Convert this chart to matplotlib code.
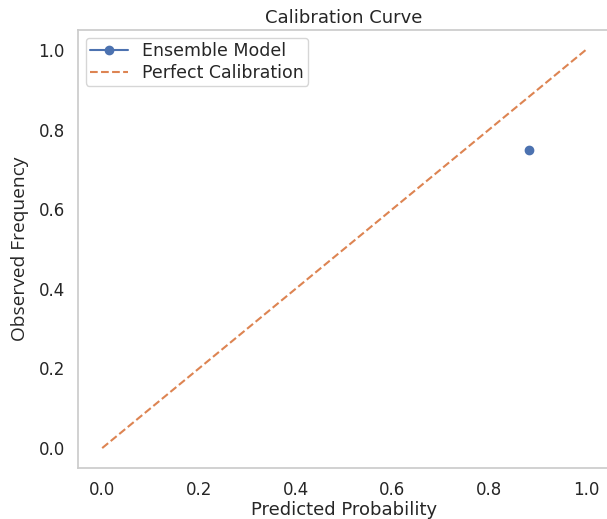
import numpy as np
import matplotlib
matplotlib.use('Agg')
import matplotlib.pyplot as plt
import seaborn as sns

sns.set_theme(style='whitegrid')
plt.rcParams['font.family'] = ['DejaVu Sans']

# calibration data
prob_pred = [0.882]
prob_true = [0.749]
perfect = [0, 1]

fig = plt.figure(figsize=(6.07, 5.19), dpi=100)
ax = fig.add_axes([78/607, 51/519, 532/607, 438/519])
ax.plot(prob_pred, prob_true, marker='o', label='Ensemble Model')
ax.plot(perfect, perfect, linestyle='--', label='Perfect Calibration')
ax.set_xlabel('Predicted Probability', fontsize=13, labelpad=1)
ax.set_ylabel('Observed Frequency', fontsize=13.8, family='Open Sans', labelpad=7)
ax.set_title('Calibration Curve', fontsize=13, pad=5)
ax.tick_params(labelsize=12)
ax.grid(False)
ax.legend(loc='upper left', fontsize=12.5, labelspacing=0.2, borderpad=0.25,
          borderaxespad=0.45, handlelength=2.2)
fig.savefig('out.png', dpi=100)
